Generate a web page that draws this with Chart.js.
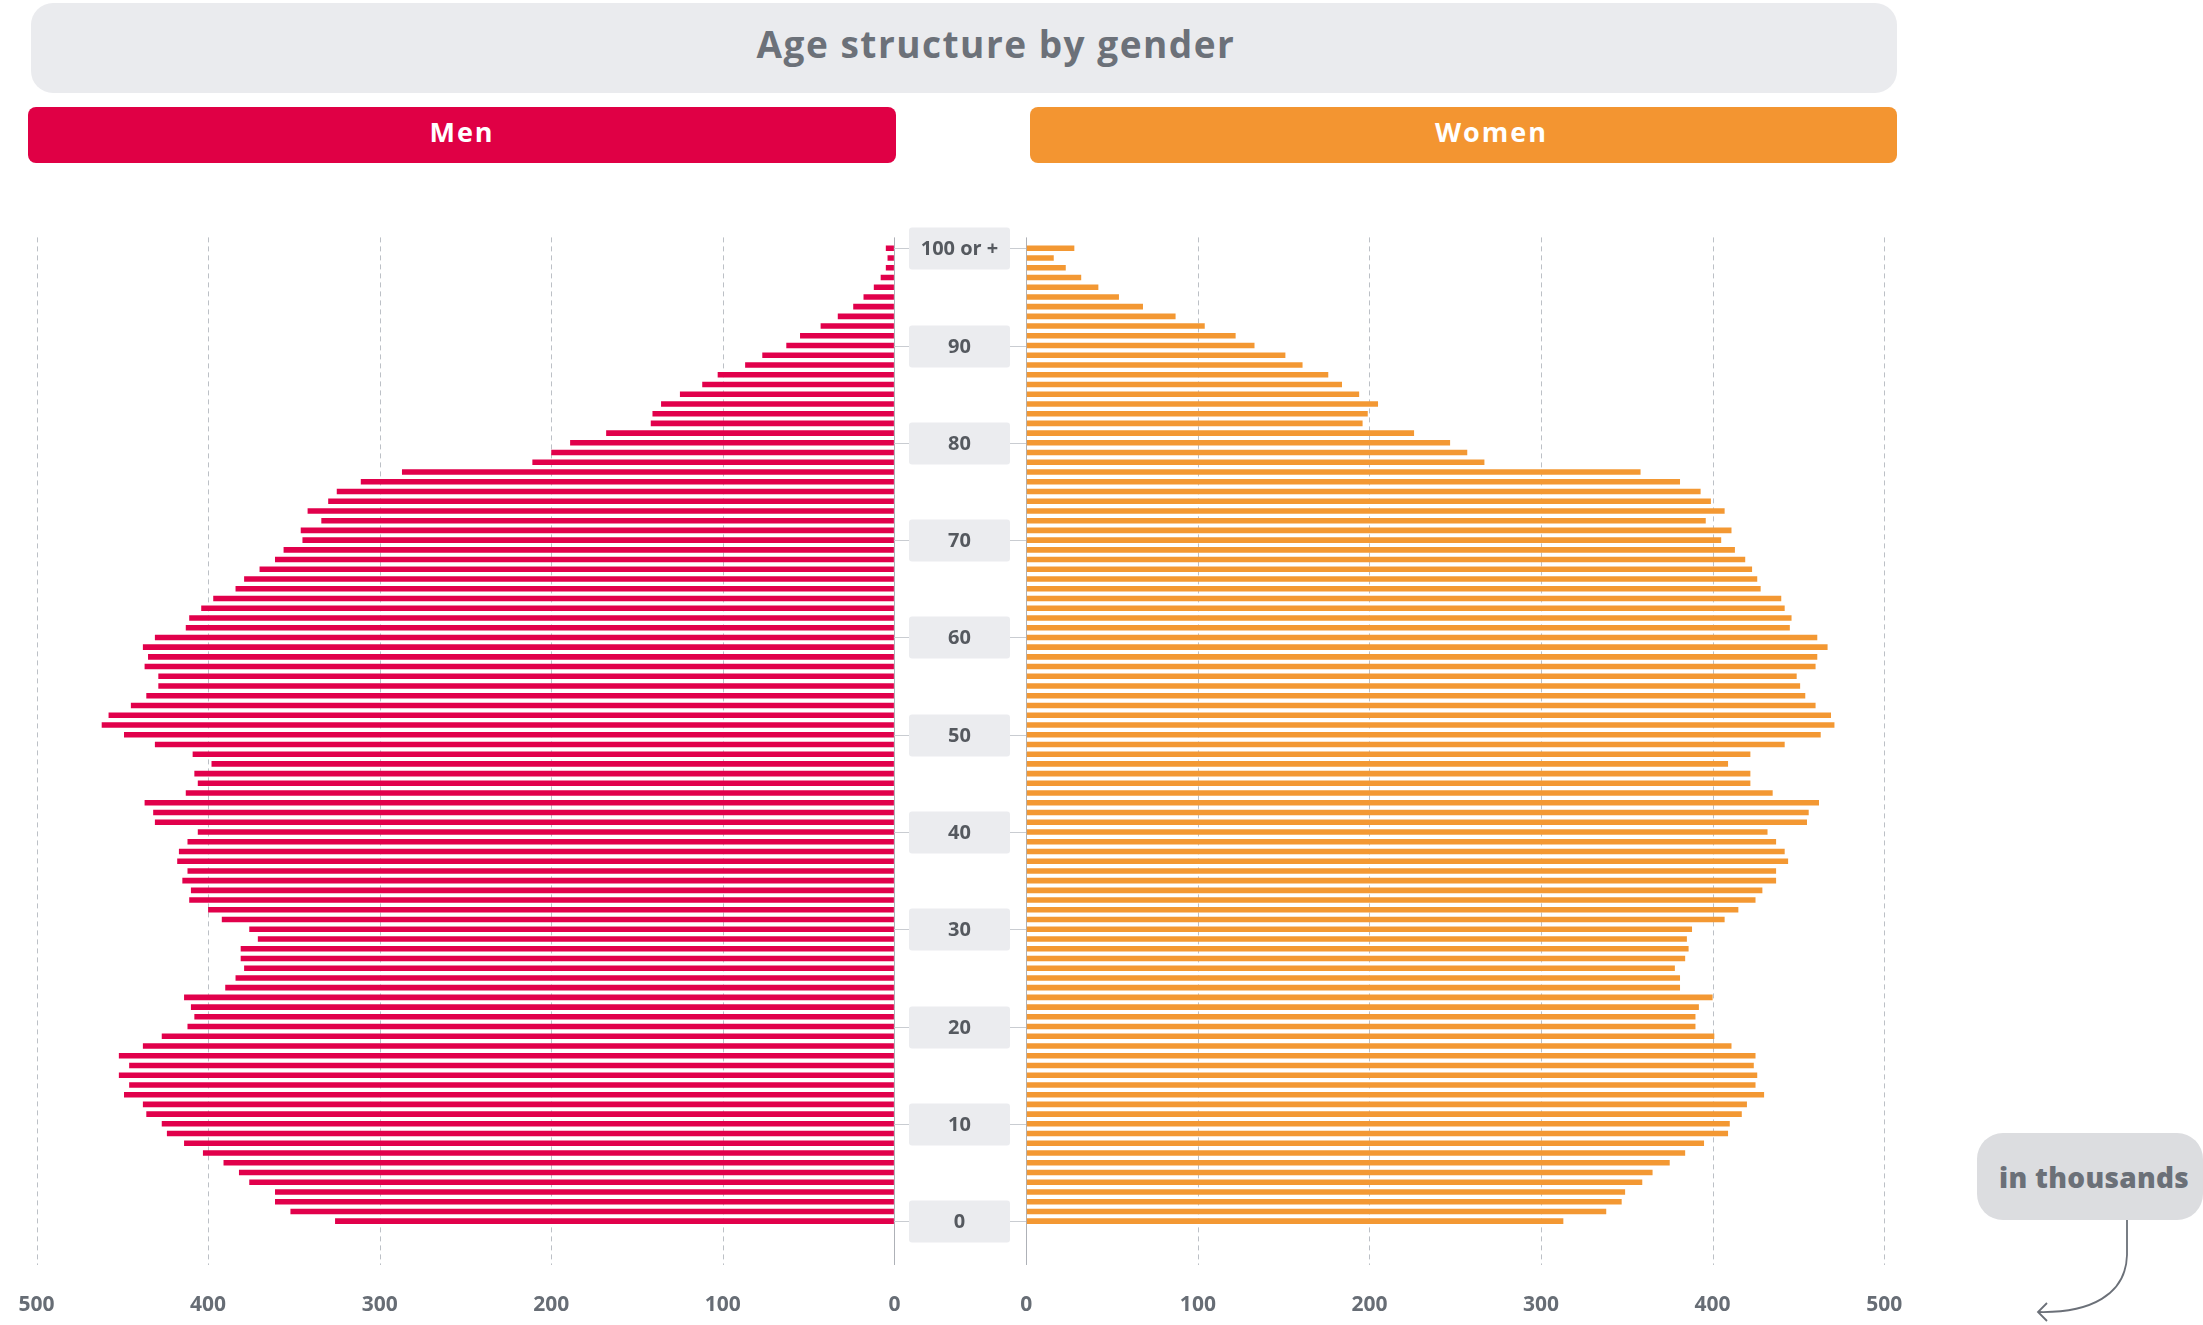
<!DOCTYPE html>
<html>
<head>
<meta charset="utf-8">
<title>Age structure by gender</title>
<script src="https://cdn.jsdelivr.net/npm/chart.js@4.4.0/dist/chart.umd.min.js"></script>
<style>
  body {
    margin: 0;
    width: 2203px;
    height: 1325px;
    position: relative;
    overflow: hidden;
    background: #fff;
    font-family: 'Open Sans', sans-serif;
  }
  .title {
    position: absolute;
    left: 31px; top: 3px; width: 1866px; height: 90px;
    box-sizing: border-box;
    padding: 0 0 10px 64px;
    background: #eaebee;
    border-radius: 22px;
    color: #6c7179;
    font-weight: 700;
    font-size: 37px;
    letter-spacing: 1.5px;
    display: flex; align-items: center; justify-content: center;
  }
  .side {
    position: absolute;
    top: 107px; height: 56px;
    box-sizing: border-box;
    padding-bottom: 8px;
    border-radius: 8px;
    color: #fff;
    font-weight: 700;
    font-size: 27px;
    letter-spacing: 2px;
    display: flex; align-items: center; justify-content: center;
  }
  .men { left: 28px; width: 868px; background: #e00045; }
  .women { left: 1030px; width: 867px; padding-left: 56px; background: #f39531; }
  .chart-box { position: absolute; top: 200px; height: 1125px; }
  #men-box { left: 0; width: 1030px; }
  #women-box { left: 1012px; width: 1191px; }
  .unit {
    position: absolute;
    left: 1977px; top: 1133px; width: 226px; height: 87px;
    box-sizing: border-box;
    padding-left: 22px;
    background: #dcdde0;
    border-radius: 26px;
    color: #6b7078;
    font-weight: 800;
    font-size: 28px;
    letter-spacing: 0.3px;
    display: flex; align-items: center;
  }
  svg.arrow { position: absolute; left: 0; top: 0; }
</style>
</head>
<body>
<div class="title">Age structure by gender</div>
<div class="side men">Men</div>
<div class="side women">Women</div>

<div class="chart-box" id="men-box"><canvas id="men-chart"></canvas></div>
<div class="chart-box" id="women-box"><canvas id="women-chart"></canvas></div>

<div class="unit">in thousands</div>
<svg class="arrow" width="2203" height="1325">
  <path d="M2127 1220 L2127 1255 C2126 1295 2090 1313 2039 1312" fill="none" stroke="#6b7078" stroke-width="1.8"/>
  <path d="M2047 1303 L2038 1312 L2047 1321" fill="none" stroke="#6b7078" stroke-width="1.8"/>
</svg>

<script>
// ages 0..99 plus the open-ended top group
const ages = Array.from({ length: 100 }, (_, i) => String(i)).concat('100 or +');
const ageTicks = ['0', '10', '20', '30', '40', '50', '60', '70', '80', '90', '100 or +'];
const xTicks = [0, 100, 200, 300, 400, 500];

// population in thousands, index = age
const men = [
  326, 352, 361, 361, 376, 382, 391, 403, 414, 424,
  427, 436, 438, 449, 446, 452, 446, 452, 438, 427,
  412, 408, 410, 414, 390, 384, 379, 381, 381, 371,
  376, 392, 400, 411, 410, 415, 412, 418, 417, 412,
  406, 431, 432, 437, 413, 406, 408, 398, 409, 431,
  449, 462, 458, 445, 436, 429, 429, 437, 435, 438,
  431, 413, 411, 404, 397, 384, 379, 370, 361, 356,
  345, 346, 334, 342, 330, 325, 311, 287, 211, 200,
  189, 168, 142, 141, 136, 125, 112, 103, 87, 77,
  63, 55, 43, 33, 24, 18, 12, 8, 5, 4,
  5
];
const women = [
  313, 338, 347, 349, 359, 365, 375, 384, 395, 409,
  410, 417, 420, 430, 425, 426, 424, 425, 411, 401,
  390, 390, 392, 400, 381, 381, 378, 384, 386, 385,
  388, 407, 415, 425, 429, 437, 437, 444, 442, 437,
  432, 455, 456, 462, 435, 422, 422, 409, 422, 442,
  463, 471, 469, 460, 454, 451, 449, 460, 461, 467,
  461, 445, 446, 442, 440, 428, 426, 423, 419, 413,
  405, 411, 396, 407, 399, 393, 381, 358, 267, 257,
  247, 226, 196, 199, 205, 194, 184, 176, 161, 151,
  133, 122, 104, 87, 68, 54, 42, 32, 23, 16,
  28
];

const tickColor = '#676d75';
const tickFont = { family: "'Open Sans'", size: 21, weight: '700' };

// dashed vertical guides, solid at zero, running a bit past the plot area
const gridLines = {
  id: 'gridLines',
  beforeDatasetsDraw(chart) {
    const { ctx, chartArea, scales: { x } } = chart;
    ctx.save();
    ctx.lineWidth = 1;
    xTicks.forEach(v => {
      const px = Math.round(x.getPixelForValue(v)) + 0.5;
      ctx.beginPath();
      ctx.setLineDash(v === 0 ? [] : [5, 4]);
      ctx.strokeStyle = v === 0 ? '#aeb1b7' : '#bcc0c6';
      ctx.moveTo(px, chartArea.top - 6);
      ctx.lineTo(px, chartArea.bottom + 39);
      ctx.stroke();
    });
    ctx.restore();
  }
};

// grey age boxes in the gap between the two halves
const ageBoxes = {
  id: 'ageBoxes',
  afterDraw(chart) {
    const { ctx, scales: { x, y } } = chart;
    const x0 = Math.round(x.getPixelForValue(0));
    ctx.save();
    ageTicks.forEach(age => {
      const py = Math.round(y.getPixelForValue(ages.indexOf(age))) + 0.5;
      ctx.strokeStyle = '#c9ccd1';
      ctx.lineWidth = 1;
      ctx.beginPath();
      ctx.moveTo(x0, py);
      ctx.lineTo(x0 + 15, py);
      ctx.moveTo(x0 + 116, py);
      ctx.lineTo(x0 + 132, py);
      ctx.stroke();

      ctx.fillStyle = '#ebecef';
      ctx.beginPath();
      ctx.roundRect(x0 + 15, py - 21, 101, 42, 3);
      ctx.fill();

      ctx.fillStyle = '#55595f';
      ctx.font = "700 20px 'Open Sans'";
      ctx.textAlign = 'center';
      ctx.textBaseline = 'middle';
      ctx.fillText(age, x0 + 65.5, py + 1);
    });
    ctx.restore();
  }
};

function pyramidSide(canvasId, values, color, reverse, padding, extraPlugins) {
  return new Chart(document.getElementById(canvasId), {
    type: 'bar',
    data: {
      labels: ages,
      datasets: [{
        data: values,
        backgroundColor: color,
        barPercentage: 0.57,
        categoryPercentage: 1,
      }],
    },
    options: {
      indexAxis: 'y',
      responsive: true,
      maintainAspectRatio: false,
      animation: false,
      layout: { padding: padding },
      plugins: {
        legend: { display: false },
        tooltip: { enabled: false },
      },
      scales: {
        x: {
          reverse: reverse,
          min: 0,
          max: 500,
          ticks: { stepSize: 100, padding: 4, color: tickColor, font: tickFont },
          // invisible tick marks just push the labels down
          grid: {
            drawOnChartArea: false,
            drawTicks: true,
            tickLength: 62,
            color: 'rgba(0,0,0,0)',
          },
          border: { display: false },
          afterFit: scale => { scale.height = 99; },
        },
        y: {
          reverse: true,
          display: false,
        },
      },
    },
    plugins: [gridLines].concat(extraPlugins),
  });
}

pyramidSide('men-chart', men, '#e1004b', true,
  { left: 36.5, right: 135.6, top: 43.4, bottom: 0 }, [ageBoxes]);
pyramidSide('women-chart', women, '#f39833', false,
  { left: 14.3, right: 318.8, top: 43.4, bottom: 0 }, []);
</script>
</body>
</html>
